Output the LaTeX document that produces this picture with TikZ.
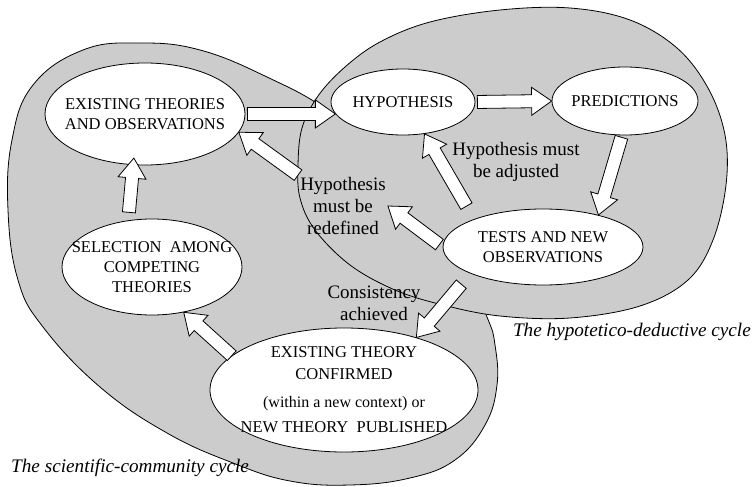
\documentclass[tikz,border=0pt]{standalone}
\usepackage{fontspec}
\setmainfont{Liberation Serif}
\usetikzlibrary{shapes.geometric, calc}

% white block arrow: from, to, gap at start, gap at end
\newcommand{\blockarrow}[4]{%
  \coordinate (ba-s) at ($(#1)!#3!(#2)$);
  \coordinate (ba-e) at ($(#2)!#4!(#1)$);
  \coordinate (ba-h) at ($(ba-e)!20pt!(ba-s)$);
  \draw[barrow] ($(ba-s)!6.5pt!90:(ba-e)$) -- ($(ba-h)!6.5pt!90:(ba-e)$)
    -- ($(ba-h)!14pt!90:(ba-e)$) -- (ba-e) -- ($(ba-h)!14pt!-90:(ba-e)$)
    -- ($(ba-h)!6.5pt!-90:(ba-e)$) -- ($(ba-s)!6.5pt!-90:(ba-e)$) -- cycle;}

\begin{document}
\begin{tikzpicture}[x=1pt, y=-1pt,
    blob/.style={draw, line width=0.8pt, fill=black!20},
    bubble/.style={ellipse, draw, line width=0.8pt, fill=white, inner sep=-40pt,
      align=center, font=\fontsize{16.5}{20}\selectfont},
    note/.style={align=center, inner sep=2pt, font=\fontsize{19}{22}\selectfont},
    caption/.style={inner sep=0pt, font=\fontsize{19.2}{22}\selectfont\itshape},
    barrow/.style={draw, line width=0.8pt, fill=white, line join=miter}]
  \useasboundingbox (0,0) rectangle (753,487);

  % the two cycles
  \path[blob] plot[smooth cycle, tension=0.7] coordinates {(267,77) (200,50)
    (140,43) (83,50) (33,85) (12,140) (8,210) (18,280) (43,327) (100,387)
    (167,433) (233,463) (290,481) (350,485) (410,478) (455,460) (485,425)
    (497,385) (495,345) (487,317) (460,260) (400,170) (330,112)};
  \path[blob] plot[smooth cycle, tension=0.6] coordinates {(298,165) (302,128)
    (318,96) (345,67) (380,42) (430,22) (500,10) (570,8) (630,20) (677,48)
    (708,88) (725,135) (726,185) (713,240) (688,280) (640,306) (570,318)
    (500,316) (443,305) (395,290) (350,265) (315,230) (300,198)};

  \node[bubble, minimum width=200pt, minimum height=102pt] (exist) at (145,114)
    {EXISTING THEORIES\\AND OBSERVATIONS};
  \node[bubble, minimum width=144pt, minimum height=66pt] (hyp) at (403,102)
    {HYPOTHESIS};
  \node[bubble, minimum width=146pt, minimum height=68pt] (pred) at (625,101)
    {PREDICTIONS};
  \node[bubble, minimum width=200pt, minimum height=76pt] (tests) at (543,247)
    {TESTS AND NEW\\OBSERVATIONS};
  \node[bubble, minimum width=180pt, minimum height=96pt] (select) at (152,267)
    {SELECTION\ \ AMONG\\COMPETING\\THEORIES};
  \node[bubble, minimum width=268pt, minimum height=124pt] (conf) at (344,390)
    {EXISTING THEORY\\[2pt]CONFIRMED\\[8pt]
     {\fontsize{16}{20}\selectfont (within a new context) or}\\[5pt]
     NEW THEORY\ \ PUBLISHED};

  \node[note] (adjust) at (516,162) {Hypothesis must\\be adjusted};
  \node[note] (redef) at (343,206) {Hypothesis\\must be\\redefined};
  \node[note] (consist) at (374,303) {Consistency\\achieved};

  \node[caption, anchor=west] (sccap) at (11,468) {The scientific-community cycle};
  \node[caption, anchor=east] (hdcap) at (751,332) {The hypotetico-deductive cycle};

  % arrows
  \blockarrow{exist.east}{hyp.190}{2pt}{0pt}
  \blockarrow{hyp.east}{pred.west}{2pt}{0pt}
  \blockarrow{pred.-95}{tests.30}{2pt}{0pt}
  \blockarrow{tests.158}{hyp.-56}{15pt}{0pt}
  \blockarrow{tests.west}{redef.east}{4pt}{0pt}
  \blockarrow{redef.north west}{exist.-11}{0pt}{0pt}
  \blockarrow{tests.-160}{conf.36}{14pt}{0pt}
  \blockarrow{conf.163}{select.-55}{0pt}{0pt}
  \blockarrow{select.117}{exist.-103}{8pt}{-7pt}
\end{tikzpicture}
\end{document}
